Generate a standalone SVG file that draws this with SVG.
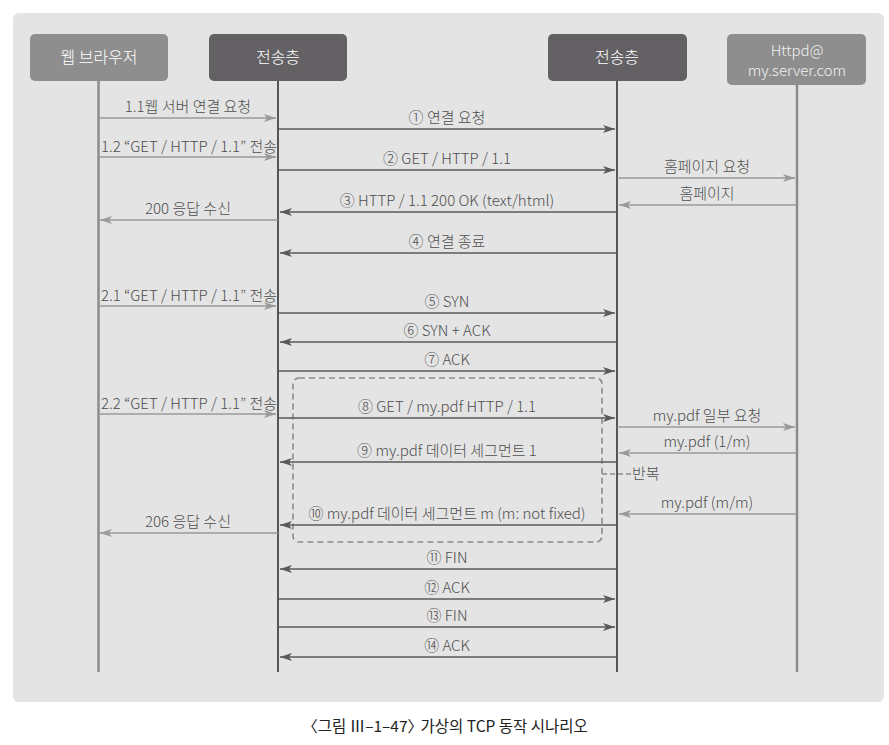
<svg xmlns="http://www.w3.org/2000/svg" width="889" height="745" viewBox="0 0 889 745">
<defs>
<marker id="ad" markerUnits="userSpaceOnUse" viewBox="0 0 12 8" refX="12" refY="4" markerWidth="12" markerHeight="8" orient="auto"><path d="M0,0 L12,4 L0,8 L3,4 Z" fill="#5a5a5a"/></marker>
<marker id="ag" markerUnits="userSpaceOnUse" viewBox="0 0 12 8" refX="12" refY="4" markerWidth="12" markerHeight="8" orient="auto"><path d="M0,0 L12,4 L0,8 L3,4 Z" fill="#9a9a9a"/></marker>
</defs>
<style>
text{font-family:"Noto Sans CJK KR","Noto Sans",sans-serif;font-weight:300}
.hd{font-size:16px;fill:#ffffff;text-anchor:middle}
.lb{font-size:15px;fill:#4e4e4e;text-anchor:middle}
.d{stroke:#5a5a5a;stroke-width:1.6;fill:none;marker-end:url(#ad)}
.g{stroke:#9a9a9a;stroke-width:1.6;fill:none;marker-end:url(#ag)}
.ll{stroke:#8c8c8c;stroke-width:2.5}
.lt{stroke:#555555;stroke-width:2}
</style>
<rect width="889" height="745" fill="#ffffff"/>
<rect x="13" y="13" width="871" height="689" rx="6" fill="#e4e4e4"/>
<g id="lifelines">
<line class="ll" x1="98.5" y1="81" x2="98.5" y2="672"/>
<line class="lt" x1="278" y1="81" x2="278" y2="672"/>
<line class="lt" x1="617" y1="81" x2="617" y2="672"/>
<line class="ll" x1="797" y1="85" x2="797" y2="672"/>
</g>
<g id="browser"><rect x="30" y="34" width="138" height="47" rx="5" fill="#8e8e8e"/><text class="hd" x="99" y="63">웹 브라우저</text></g>
<g id="transport-left"><rect x="209" y="34" width="138" height="47" rx="5" fill="#636163"/><text class="hd" x="278" y="63">전송층</text></g>
<g id="transport-right"><rect x="548" y="34" width="139" height="47" rx="5" fill="#636163"/><text class="hd" x="617" y="63">전송층</text></g>
<g id="httpd"><rect x="727" y="34" width="139" height="51" rx="5" fill="#8e8e8e"/><text class="hd" x="797" y="56" style="font-size:15px;fill:#f2f2f2">Httpd@</text><text class="hd" x="797" y="76" style="font-size:15px;fill:#f2f2f2">my.server.com</text></g>
<g id="repeat-box">
<rect x="293" y="378" width="309" height="164" rx="6" fill="none" stroke="#8a8a8a" stroke-width="1.6" stroke-dasharray="6,4"/>
<line x1="602" y1="474" x2="631" y2="474" stroke="#8a8a8a" stroke-width="1.6" stroke-dasharray="5,3"/>
<text x="632" y="479" style="font-size:15px;fill:#4e4e4e">반복</text>
</g>
<g id="connectors">
<line class="g" x1="99" y1="118" x2="276" y2="118"/><text class="lb" x="188" y="112">1.1웹 서버 연결 요청</text>
<line class="d" x1="278" y1="129" x2="615" y2="129"/><text class="lb" x="447" y="123">① 연결 요청</text>
<line class="g" x1="99" y1="157" x2="276" y2="157"/><text class="lb" x="189" y="152">1.2 “GET / HTTP / 1.1” 전송</text>
<line class="d" x1="278" y1="170" x2="615" y2="170"/><text class="lb" x="447" y="164">② GET / HTTP / 1.1</text>
<line class="g" x1="617" y1="178" x2="795" y2="178"/><text class="lb" x="707" y="172">홈페이지 요청</text>
<line class="g" x1="797" y1="205" x2="619" y2="205"/><text class="lb" x="707" y="199">홈페이지</text>
<line class="d" x1="617" y1="212" x2="280" y2="212"/><text class="lb" x="447" y="206">③ HTTP / 1.1 200 OK (text/html)</text>
<line class="g" x1="278" y1="220" x2="100" y2="220"/><text class="lb" x="188" y="214">200 응답 수신</text>
<line class="d" x1="617" y1="253" x2="280" y2="253"/><text class="lb" x="447" y="247">④ 연결 종료</text>
<line class="g" x1="99" y1="306" x2="276" y2="306"/><text class="lb" x="189" y="301">2.1 “GET / HTTP / 1.1” 전송</text>
<line class="d" x1="278" y1="313" x2="615" y2="313"/><text class="lb" x="447" y="307">⑤ SYN</text>
<line class="d" x1="617" y1="342" x2="280" y2="342"/><text class="lb" x="447" y="336">⑥ SYN + ACK</text>
<line class="d" x1="278" y1="371" x2="615" y2="371"/><text class="lb" x="447" y="365">⑦ ACK</text>
<line class="g" x1="99" y1="414" x2="276" y2="414"/><text class="lb" x="189" y="409">2.2 “GET / HTTP / 1.1” 전송</text>
<line class="d" x1="278" y1="418" x2="615" y2="418"/><text class="lb" x="447" y="412">⑧ GET / my.pdf HTTP / 1.1</text>
<line class="g" x1="617" y1="427" x2="795" y2="427"/><text class="lb" x="707" y="421">my.pdf 일부 요청</text>
<line class="g" x1="797" y1="453" x2="619" y2="453"/><text class="lb" x="707" y="447">my.pdf (1/m)</text>
<line class="d" x1="617" y1="462" x2="280" y2="462"/><text class="lb" x="447" y="456">⑨ my.pdf 데이터 세그먼트 1</text>
<line class="g" x1="797" y1="514" x2="619" y2="514"/><text class="lb" x="707" y="508">my.pdf (m/m)</text>
<line class="d" x1="617" y1="525" x2="280" y2="525"/><text class="lb" x="447" y="519">⑩ my.pdf 데이터 세그먼트 m (m: not fixed)</text>
<line class="g" x1="278" y1="533" x2="100" y2="533"/><text class="lb" x="188" y="527">206 응답 수신</text>
<line class="d" x1="617" y1="569" x2="280" y2="569"/><text class="lb" x="447" y="563">⑪ FIN</text>
<line class="d" x1="278" y1="599" x2="615" y2="599"/><text class="lb" x="447" y="593">⑫ ACK</text>
<line class="d" x1="278" y1="627" x2="615" y2="627"/><text class="lb" x="447" y="621">⑬ FIN</text>
<line class="d" x1="617" y1="657" x2="280" y2="657"/><text class="lb" x="447" y="651">⑭ ACK</text>
</g>
<text x="445" y="732" style="font-size:15.5px;font-weight:400;fill:#222222;text-anchor:middle">〈그림 Ⅲ–1–47〉<tspan dx="-6"> 가상의 TCP 동작 시나리오</tspan></text>
</svg>
